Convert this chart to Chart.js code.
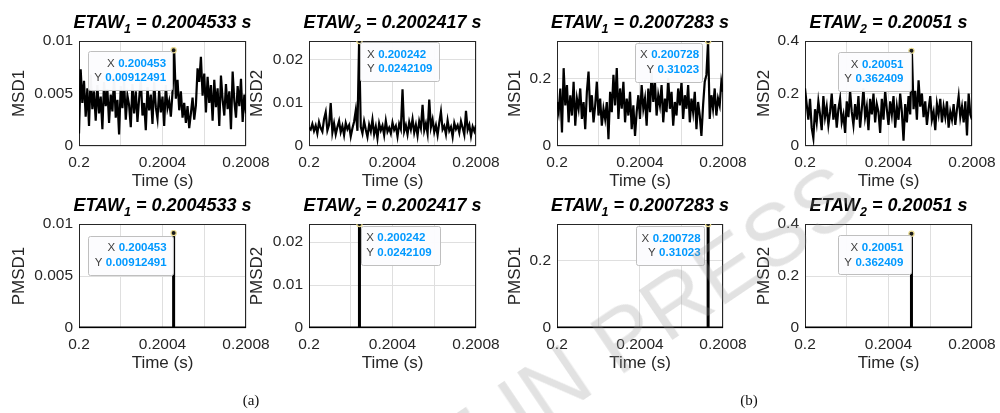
<!DOCTYPE html>
<html>
<head>
<meta charset="utf-8">
<script src="https://cdn.jsdelivr.net/npm/chart.js@4.4.1/dist/chart.umd.min.js"></script>
<style>
  html, body { margin:0; padding:0; background:#fff; }
  body { position:relative; width:1000px; height:413px; overflow:hidden; font-family:"Liberation Sans", Arial, sans-serif; }
  .panel { position:absolute; }
  .ttl { position:absolute; transform:translateX(-50%); white-space:nowrap; font-style:italic; font-weight:bold; font-size:18px; line-height:20px; color:#000; }
  .ttl sub { font-size:12.5px; vertical-align:baseline; position:relative; top:5px; }
  .cap { position:absolute; transform:translateX(-50%); font-family:"Liberation Serif", serif; font-size:15px; line-height:18px; color:#111; }
  .wm { position:absolute; left:156px; top:599px; transform-origin:0 0; transform:rotate(-34deg); font-size:88px; line-height:88px; white-space:nowrap; color:rgba(150,150,150,0.28); pointer-events:none; z-index:10; }
</style>
</head>
<body>
<script>
// 샘플 시간축 (0.2 ~ 0.2008 s, 101 samples)
const t0 = 0.2;
const dt = 0.000008;
const sampleTimes = [];
for (let i = 0; i <= 100; i++) sampleTimes.push(t0 + i * dt);

// (a) MSD1
const msd1_a = [
  0.0012, 0.0073, 0.0041, 0.0062, 0.0028, 0.0055, 0.0019, 0.0068, 0.0035, 0.0052,
  0.0024, 0.0058, 0.0031, 0.0047, 0.0016, 0.0061, 0.0038, 0.0054, 0.0022, 0.0049,
  0.0033, 0.0065, 0.0027, 0.0044, 0.0011, 0.0057, 0.0036, 0.0062, 0.0025, 0.0048,
  0.0039, 0.0018, 0.0059, 0.0031, 0.0052, 0.0023, 0.0045, 0.0064, 0.0029, 0.0041,
  0.0015, 0.0056, 0.0034, 0.0049, 0.0021, 0.0061, 0.0037, 0.0026, 0.0053, 0.0032,
  0.0047, 0.0019, 0.0058, 0.0036, 0.0043, 0.0028, 0.0051, 0.00912491, 0.0045, 0.0063,
  0.0034, 0.0052, 0.0027, 0.0041, 0.0022, 0.0038, 0.0017, 0.0031, 0.0046, 0.0025,
  0.0039, 0.0074, 0.0061, 0.0085, 0.0048, 0.0069, 0.0032, 0.0066, 0.0041, 0.0058,
  0.0024, 0.0063, 0.0037, 0.0055, 0.0019, 0.0067, 0.0044, 0.0029, 0.0059, 0.0035,
  0.0052, 0.0016, 0.0071, 0.0043, 0.0027, 0.0057, 0.0038, 0.0064, 0.0023, 0.0049,
  0.0031
];
// (a) MSD2
const msd2_a = [
  0.0042, 0.0038, 0.0051, 0.0035, 0.0047, 0.0029, 0.0055, 0.0041, 0.0033, 0.0062,
  0.0078, 0.0036, 0.0049, 0.0099, 0.0031, 0.0052, 0.0027, 0.0044, 0.0058, 0.0032,
  0.0046, 0.0025, 0.0053, 0.0039, 0.0048, 0.0022, 0.0041, 0.0056, 0.0082, 0.0035,
  0.0242109, 0.0044, 0.0029, 0.0057, 0.0038, 0.0021, 0.0049, 0.0034, 0.0061, 0.0027,
  0.0045, 0.0018, 0.0052, 0.0036, 0.0047, 0.0025, 0.0058, 0.0033, 0.0042, 0.0029,
  0.0054, 0.0037, 0.0046, 0.0022, 0.0051, 0.0039, 0.0131, 0.0034, 0.0048, 0.0027,
  0.0055, 0.0038, 0.0062, 0.0031, 0.0049, 0.0024, 0.0057, 0.0041, 0.0095, 0.0036,
  0.0052, 0.0029, 0.0107, 0.0043, 0.0061, 0.0032, 0.0048, 0.0025, 0.0054, 0.0079,
  0.0038, 0.0046, 0.0027, 0.0059, 0.0035, 0.0044, 0.0021, 0.0053, 0.0039, 0.0048,
  0.0031, 0.0057, 0.0042, 0.0026, 0.0081, 0.0037, 0.0049, 0.0023, 0.0045, 0.0034,
  0.0048
];
// (b) MSD1
const msd1_b = [
  0.13, 0.10, 0.17, 0.04, 0.23, 0.12, 0.18, 0.07, 0.15, 0.09,
  0.19, 0.06, 0.14, 0.11, 0.17, 0.08, 0.13, 0.05, 0.16, 0.22,
  0.10, 0.15, 0.07, 0.12, 0.19, 0.09, 0.14, 0.06, 0.11, 0.08,
  0.13, 0.02, 0.16, 0.10, 0.21, 0.12, 0.23, 0.08, 0.17, 0.11,
  0.19, 0.07, 0.14, 0.09, 0.16, 0.05, 0.12, 0.03, 0.10, 0.15,
  0.08, 0.18, 0.11, 0.14, 0.06, 0.17, 0.10, 0.22, 0.13, 0.19,
  0.09, 0.15, 0.12, 0.18, 0.07, 0.14, 0.10, 0.20, 0.11, 0.16,
  0.06, 0.13, 0.09, 0.17, 0.12, 0.19, 0.08, 0.15, 0.11, 0.18,
  0.07, 0.14, 0.10, 0.16, 0.05, 0.13, 0.09, 0.03, 0.12, 0.19,
  0.21, 0.31023, 0.08, 0.15, 0.11, 0.17, 0.09, 0.14, 0.12, 0.19,
  0.16
];
// (b) MSD2
const msd2_b = [
  0.22, 0.16, 0.10, 0.18, 0.07, 0.03, 0.14, 0.09, 0.17, 0.12,
  0.06, 0.19, 0.11, 0.15, 0.08, 0.13, 0.20, 0.10, 0.16, 0.07,
  0.14, 0.18, 0.09, 0.12, 0.05, 0.17, 0.11, 0.21, 0.13, 0.08,
  0.16, 0.10, 0.19, 0.07, 0.14, 0.22, 0.11, 0.15, 0.06, 0.18,
  0.12, 0.20, 0.09, 0.16, 0.13, 0.05, 0.18, 0.10, 0.21, 0.14,
  0.08, 0.17, 0.12, 0.19, 0.07, 0.15, 0.10, 0.20, 0.13, 0.02,
  0.16, 0.09, 0.19, 0.12, 0.362409, 0.14, 0.21, 0.10, 0.25, 0.15,
  0.20, 0.11, 0.17, 0.08, 0.14, 0.19, 0.10, 0.13, 0.06, 0.16,
  0.12, 0.18, 0.09, 0.15, 0.11, 0.17, 0.07, 0.13, 0.10, 0.16,
  0.08, 0.14, 0.19, 0.11, 0.15, 0.09, 0.17, 0.04, 0.20, 0.12,
  0.10
];

// PMSD (peak only)
const pmsdTime_a1 = [0.2, 0.2004533, 0.2004533, 0.2004533, 0.2008];
const pmsd_a1     = [0, 0, 0.00912491, 0, 0];
const pmsdTime_a2 = [0.2, 0.2002417, 0.2002417, 0.2002417, 0.2008];
const pmsd_a2     = [0, 0, 0.0242109, 0, 0];
const pmsdTime_b1 = [0.2, 0.2007283, 0.2007283, 0.2007283, 0.2008];
const pmsd_b1     = [0, 0, 0.31023, 0, 0];
const pmsdTime_b2 = [0.2, 0.20051, 0.20051, 0.20051, 0.2008];
const pmsd_b2     = [0, 0, 0.362409, 0, 0];

// ETAW / datatip
const etawText  = ['0.2004533', '0.2002417', '0.2007283', '0.20051'];
const etawIndex = [1, 2, 1, 2];
const peakTime  = [0.2004533, 0.2002417, 0.2007283, 0.20051];
const peakVal   = [0.00912491, 0.0242109, 0.31023, 0.362409];
const tipXText  = ['0.200453', '0.200242', '0.200728', '0.20051'];
const tipYText  = ['0.00912491', '0.0242109', '0.31023', '0.362409'];

// 축 눈금
const xTicks = [0.2, 0.2002, 0.2004, 0.2006, 0.2008];
const xTickLabels = ['0.2', '', '0.2004', '', '0.2008'];
const yTicks_a1 = [0, 0.005, 0.01];   const yLabels_a1 = ['0', '0.005', '0.01'];
const yTicks_a2 = [0, 0.01, 0.02];    const yLabels_a2 = ['0', '0.01', '0.02'];
const yTicks_b1 = [0, 0.2];           const yLabels_b1 = ['0', '0.2'];
const yTicks_b2 = [0, 0.2, 0.4];      const yLabels_b2 = ['0', '0.2', '0.4'];
const yMax = [0.01, 0.0242109, 0.31023, 0.4];

// layout (px)
const cols = [{left:79, w:167}, {left:309, w:167}, {left:557, w:166}, {left:805, w:167}];
const rows = [{top:41, h:105}, {top:224, h:104}];
const yAxisW = [70, 62, 52, 51];
const FONT = 'Liberation Sans';
const AXC = '#262626';

const panels = [
  {col:0, row:0, yTitle:'MSD1',  t:sampleTimes, v:msd1_a, yT:yTicks_a1, yL:yLabels_a1, k:0, lw:2.2, tip:{side:'left',  off:[-2, 1],  w:84, pad:5.5, align:'right'}},
  {col:1, row:0, yTitle:'MSD2',  t:sampleTimes, v:msd2_a, yT:yTicks_a2, yL:yLabels_a2, k:1, lw:2.2, tip:{side:'right', off:[1, 1.3], w:79, pad:6.5, align:'left'}},
  {col:2, row:0, yTitle:'MSD1',  t:sampleTimes, v:msd1_b, yT:yTicks_b1, yL:yLabels_b1, k:2, lw:2.2, tip:{side:'left',  off:[-6, 1.6], w:67, pad:3,  align:'right'}},
  {col:3, row:0, yTitle:'MSD2',  t:sampleTimes, v:msd2_b, yT:yTicks_b2, yL:yLabels_b2, k:3, lw:2.2, tip:{side:'left',  off:[0, 1],   w:73, pad:8,  align:'right'}},
  {col:0, row:1, yTitle:'PMSD1', t:pmsdTime_a1, v:pmsd_a1, yT:yTicks_a1, yL:yLabels_a1, k:0, lw:3, tip:{side:'left',  off:[-1, 2.7], w:85, pad:6,  align:'right'}},
  {col:1, row:1, yTitle:'PMSD2', t:pmsdTime_a2, v:pmsd_a2, yT:yTicks_a2, yL:yLabels_a2, k:1, lw:3, tip:{side:'right', off:[1.7, 1.7], w:79, pad:5,  align:'left'}},
  {col:2, row:1, yTitle:'PMSD1', t:pmsdTime_b1, v:pmsd_b1, yT:yTicks_b1, yL:yLabels_b1, k:2, lw:3, tip:{side:'left',  off:[-4, 2],   w:68, pad:3.5, align:'right'}},
  {col:3, row:1, yTitle:'PMSD2', t:pmsdTime_b2, v:pmsd_b2, yT:yTicks_b2, yL:yLabels_b2, k:3, lw:3, tip:{side:'left',  off:[-0.6, 1.7], w:72.5, pad:7.5, align:'right'}}
];

// axes box (MATLAB box on)
const boxPlugin = {
  id: 'axesBox',
  beforeDatasetsDraw(chart) {
    const {ctx, chartArea:a} = chart;
    ctx.save();
    ctx.strokeStyle = AXC;
    ctx.lineWidth = 1;
    ctx.strokeRect(Math.round(a.left) + 0.5, Math.round(a.top) + 0.5,
                   Math.round(a.right - a.left) - 1, Math.round(a.bottom - a.top) - 1);
    ctx.restore();
  }
};

// datatip box
const dataTipPlugin = {
  id: 'dataTip',
  afterDatasetsDraw(chart, args, o) {
    if (!o || !o.tip) return;
    const {ctx, scales:{x, y}} = chart;
    const tip = o.tip;
    const px = x.getPixelForValue(o.t), py = y.getPixelForValue(o.v);
    const h = 39;
    const left = tip.side === 'left' ? px + tip.off[0] - tip.w : px + tip.off[0];
    const top = py + tip.off[1];
    ctx.save();
    ctx.beginPath();
    ctx.roundRect(Math.round(left) + 0.5, Math.round(top) + 0.5, Math.round(tip.w), h, 2);
    ctx.fillStyle = 'rgba(252,252,254,0.97)';
    ctx.fill();
    ctx.strokeStyle = '#bfbfbf';
    ctx.lineWidth = 1;
    ctx.stroke();
    ctx.textBaseline = 'middle';
    const lines = [['X', o.xs], ['Y', o.ys]];
    lines.forEach((ln, i) => {
      const cy = top + 12.5 + i * 14.5;
      ctx.font = 'bold 11.5px "' + FONT + '"';
      const vw = ctx.measureText(ln[1]).width;
      ctx.font = '11.5px "' + FONT + '"';
      const lw = ctx.measureText(ln[0]).width;
      let vx, lx;
      if (tip.align === 'right') {
        vx = left + tip.w - tip.pad - vw;
        lx = vx - 3.5 - lw;
      } else {
        lx = left + tip.pad;
        vx = lx + lw + 3.5;
      }
      ctx.textAlign = 'left';
      ctx.fillStyle = '#404040';
      ctx.fillText(ln[0], lx, cy);
      ctx.font = 'bold 11.5px "' + FONT + '"';
      ctx.fillStyle = '#0099ff';
      ctx.fillText(ln[1], vx, cy);
    });
    ctx.restore();
  }
};

function makePanel(p) {
  const col = cols[p.col], row = rows[p.row];
  const yW = yAxisW[p.col];
  const padTop = 20, padRight = 32, xH = 46;
  const W = yW + col.w + padRight, H = padTop + row.h + xH;

  const div = document.createElement('div');
  div.className = 'panel';
  div.style.left = (col.left - yW) + 'px';
  div.style.top = (row.top - padTop) + 'px';
  const cv = document.createElement('canvas');
  cv.width = W; cv.height = H;
  cv.style.width = W + 'px'; cv.style.height = H + 'px';
  div.appendChild(cv);
  document.body.appendChild(div);

  // 제목 (subscript 때문에 html)
  const ttl = document.createElement('div');
  ttl.className = 'ttl';
  ttl.style.left = (col.left + col.w / 2) + 'px';
  ttl.style.top = (row.top - 29.5) + 'px';
  ttl.innerHTML = 'ETAW<sub>' + etawIndex[p.k] + '</sub> = ' + etawText[p.k] + ' s';
  document.body.appendChild(ttl);

  new Chart(cv.getContext('2d'), {
    type: 'line',
    plugins: [boxPlugin, dataTipPlugin],
    data: {
      datasets: [
        { // datatip marker
          data: [{x: peakTime[p.k], y: peakVal[p.k]}],
          showLine: false,
          pointRadius: 2.6,
          pointBackgroundColor: '#1a1a1a',
          pointBorderColor: '#eadb8f',
          pointBorderWidth: 1.2
        },
        {
          data: p.t.map((tt, i) => ({x: tt, y: p.v[i]})),
          borderColor: '#000',
          borderWidth: p.lw,
          pointRadius: 0,
          tension: 0,
          fill: false
        }
      ]
    },
    options: {
      responsive: false,
      animation: false,
      events: [],
      layout: { padding: {top: padTop, right: padRight, left: 0, bottom: 0} },
      plugins: {
        legend: { display: false },
        tooltip: { enabled: false },
        dataTip: { tip: p.tip, t: peakTime[p.k], v: peakVal[p.k], xs: tipXText[p.k], ys: tipYText[p.k] }
      },
      scales: {
        x: {
          type: 'linear',
          min: 0.2, max: 0.2008,
          afterBuildTicks: s => { s.ticks = xTicks.map(v => ({value: v})); },
          afterFit: s => { s.height = xH; },
          ticks: {
            autoSkip: false, maxRotation: 0, padding: 7.5, color: AXC,
            font: {family: FONT, size: 15.5},
            callback: (val, i) => xTickLabels[i]
          },
          grid: { color: '#dfdfdf', drawTicks: false },
          border: { display: false },
          title: { display: true, text: 'Time (s)', color: AXC, font: {family: FONT, size: 17}, padding: 0 }
        },
        y: {
          type: 'linear',
          min: 0, max: yMax[p.k],
          afterBuildTicks: s => { s.ticks = p.yT.map(v => ({value: v})); },
          afterFit: s => { s.width = yW; },
          ticks: {
            autoSkip: false, padding: 6, color: AXC,
            font: {family: FONT, size: 15.5},
            callback: (val, i) => p.yL[i]
          },
          grid: { color: '#dfdfdf', drawTicks: false },
          border: { display: false },
          title: { display: true, text: p.yTitle, color: AXC, font: {family: FONT, size: 17}, padding: 0 }
        }
      }
    }
  });
}

panels.forEach(makePanel);

// (a), (b)
[['(a)', 251], ['(b)', 749]].forEach(c => {
  const d = document.createElement('div');
  d.className = 'cap';
  d.style.left = c[1] + 'px';
  d.style.top = '391px';
  d.textContent = c[0];
  document.body.appendChild(d);
});

const wm = document.createElement('div');
wm.className = 'wm';
wm.textContent = 'ARTICLE IN PRESS';
document.body.appendChild(wm);
</script>
</body>
</html>
